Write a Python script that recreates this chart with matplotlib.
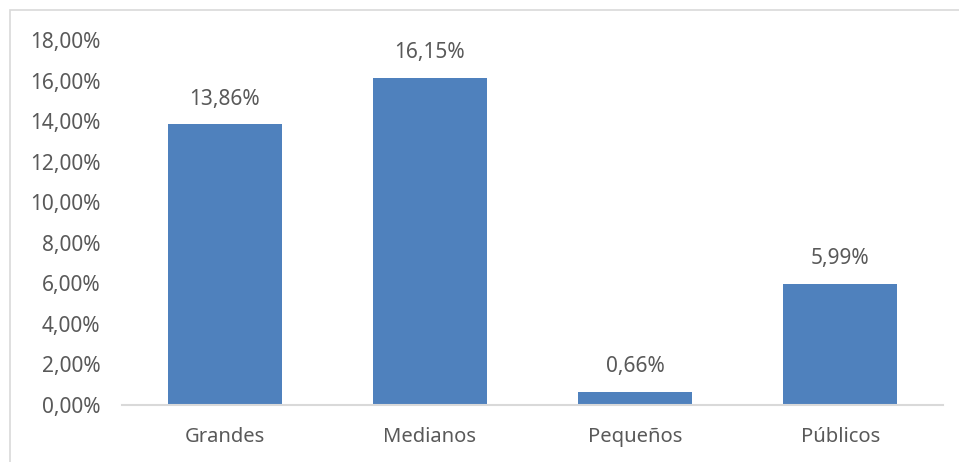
import matplotlib
matplotlib.use('Agg')
import matplotlib.pyplot as plt
from matplotlib.patches import Rectangle
from matplotlib.ticker import FuncFormatter

categorias = ['Grandes', 'Medianos', 'Pequeños', 'Públicos']
valores = [13.86, 16.15, 0.66, 5.99]
ticks = [0, 2, 4, 6, 8, 10, 12, 14, 16, 18]

plt.rcParams['font.family'] = ['Noto Sans', 'DejaVu Sans']
gris = '#595959'

fig = plt.figure(figsize=(9.59, 4.62), dpi=100)
ax = fig.add_axes([122/959, 1 - 405/462, (943-122)/959, (405-40)/462])

x = range(len(categorias))
barras = ax.bar(x, valores, width=0.556, color='#4F81BD')
for b, v in zip(barras, valores):
    ax.text(b.get_x() + b.get_width()/2, v + 0.7, ('%.2f%%' % v).replace('.', ','),
            ha='center', va='bottom', fontsize=15, color=gris)

ax.set_xlim(-0.5, 3.5)
ax.set_ylim(0, 18)
ax.set_yticks(ticks)
ax.yaxis.set_major_formatter(FuncFormatter(lambda v, p: ('%.2f%%' % v).replace('.', ',')))
ax.set_xticks(list(x))
ax.set_xticklabels(categorias)
ax.tick_params(axis='both', length=0, colors=gris)
ax.tick_params(axis='x', pad=16, labelsize=14.5)
ax.tick_params(axis='y', pad=15.5, labelsize=15)
for s in ['top', 'right', 'left']:
    ax.spines[s].set_visible(False)
ax.spines['bottom'].set_color('#D9D9D9')
ax.spines['bottom'].set_linewidth(1.5)

# borde exterior del grafico
fig.patches.append(Rectangle((10/959, -0.1), 1.2, 1 - 10/462 + 0.1, transform=fig.transFigure,
                             fill=False, edgecolor='#D9D9D9', linewidth=1.2))

fig.savefig('out.png', dpi=100)
